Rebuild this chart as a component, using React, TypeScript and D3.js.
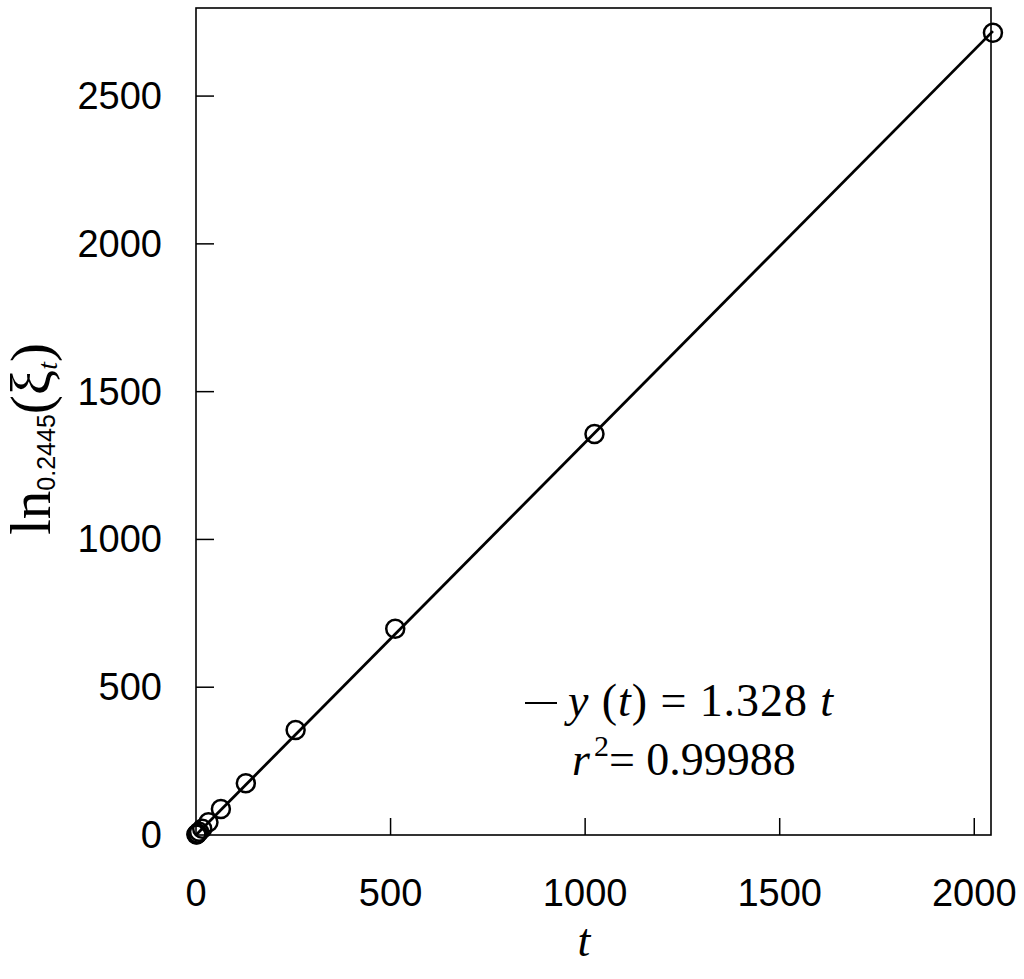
import React from "react";
import * as d3 from "d3";

const tValues = [1, 2, 4, 8, 16, 32, 64, 128, 256, 512, 1024, 2048];
const lnValues = [1.3, 2.6, 5.3, 10.6, 21, 43, 88, 175, 355, 698, 1357, 2714];
const xTicks = [0, 500, 1000, 1500, 2000];
const yTicks = [0, 500, 1000, 1500, 2000, 2500];
const slope = 1.328;
const fitRange = [0, 2048];

const W = 1024;
const H = 979;
const L = 196, R = 991, T = 8, B = 835;

export default function App() {
  const x = d3.scaleLinear().domain([0, 2043]).range([L, R]);
  const y = d3.scaleLinear().domain([0, 2798]).range([B, T]);
  const line = d3.line<number>().x((d) => x(d)).y((d) => y(slope * d));
  const sans = "'Liberation Sans', Arial, sans-serif";
  const serif = "'Liberation Serif', 'Times New Roman', serif";
  return (
    <svg width={W} height={H} style={{ position: "absolute", left: 0, top: 0, background: "#fff" }}>
      <rect x={0} y={0} width={W} height={H} fill="#fff" />
      {/* frame */}
      <rect x={L} y={T} width={R - L} height={B - T} fill="none" stroke="#000" strokeWidth={1.6} />
      {/* x ticks */}
      {xTicks.map((v) => (
        <g key={"x" + v}>
          {v !== 0 && <line x1={x(v)} x2={x(v)} y1={B} y2={B - 17} stroke="#000" strokeWidth={1.5} />}
          <text x={x(v)} y={906} textAnchor="middle" fontFamily={sans} fontSize={38} fill="#000">
            {v}
          </text>
        </g>
      ))}
      {/* y ticks */}
      {yTicks.map((v) => (
        <g key={"y" + v}>
          {v !== 0 && <line x1={L} x2={L + 18} y1={y(v)} y2={y(v)} stroke="#000" strokeWidth={1.5} />}
          <text x={162} y={y(v) + 13} textAnchor="end" fontFamily={sans} fontSize={38} fill="#000">
            {v}
          </text>
        </g>
      ))}
      {/* fit line */}
      <path d={line(fitRange) || ""} fill="none" stroke="#000" strokeWidth={2.8} />
      {/* points */}
      {tValues.map((t, i) => (
        <circle key={t} cx={x(t)} cy={y(lnValues[i])} r={9} fill="none" stroke="#000" strokeWidth={2.5} />
      ))}
      {/* legend */}
      <line x1={525} x2={557} y1={703} y2={703} stroke="#000" strokeWidth={2} />
      <text x={568} y={716} fontFamily={serif} fontSize={46} fill="#000" textLength={265} lengthAdjust="spacing">
        <tspan fontStyle="italic">y</tspan>
        <tspan> (</tspan>
        <tspan fontStyle="italic">t</tspan>
        <tspan>) = 1.328 </tspan>
        <tspan fontStyle="italic">t</tspan>
      </text>
      <text x={572} y={775} fontFamily={serif} fontSize={46} fill="#000">
        <tspan fontStyle="italic">r</tspan>
        <tspan fontSize={30} dy={-19} dx={4}>2</tspan>
        <tspan dy={19}>= 0.99988</tspan>
      </text>
      {/* x label */}
      <text x={584} y={956} textAnchor="middle" fontFamily={serif} fontStyle="italic" fontSize={46} fill="#000">
        t
      </text>
      {/* y label */}
      <text transform="translate(50,535) rotate(-90)" fontFamily={serif} fontSize={57} fill="#000">
        <tspan>ln</tspan>
        <tspan fontFamily={sans} fontSize={25} dy={5}>0.2445</tspan>
        <tspan dy={-5}>(ξ</tspan>
        <tspan fontStyle="italic" fontSize={28} dy={7}>t</tspan>
        <tspan dy={-7}>)</tspan>
      </text>
    </svg>
  );
}
